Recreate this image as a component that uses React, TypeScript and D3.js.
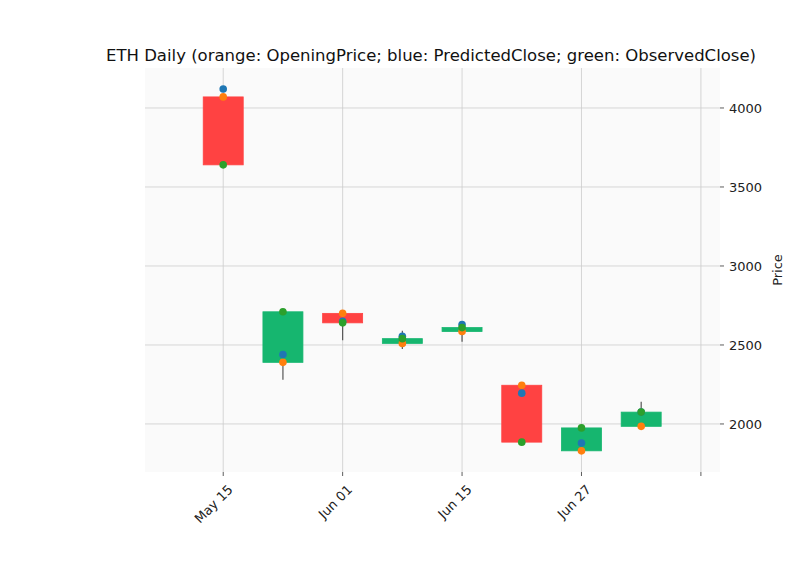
import * as d3 from 'd3';

const dates = ['May 15', 'May 23', 'Jun 01', 'Jun 08', 'Jun 15', 'Jun 21', 'Jun 27', 'Jul 04'];
const opens = [4070, 2390, 2700, 2510, 2585, 2245, 1830, 1985];
const closes = [3640, 2710, 2640, 2540, 2610, 1885, 1975, 2075];
const highs = [4070, 2710, 2720, 2590, 2610, 2245, 1975, 2140];
const lows = [3640, 2280, 2530, 2475, 2520, 1885, 1830, 1985];
const predicted = [4120, 2440, 2650, 2555, 2630, 2195, 1880, 2075];
const tickIdx = [0, 2, 4, 6, 8];
const yTicks = [2000, 2500, 3000, 3500, 4000];

export default function App() {
  const W = 800, H = 575;
  const left = 145, right = 720, top = 68, bottom = 472;
  const x = d3.scaleLinear().domain([-1.31, 8.32]).range([left, right]);
  const y = d3.scaleLinear().domain([1696, 4253]).range([bottom, top]);
  const bw = 40;
  const font = 'DejaVu Sans, sans-serif';
  return (
    <svg width={W} height={H} style={{ position: 'absolute', left: 0, top: 0 }} fontFamily={font}>
      <rect width={W} height={H} fill="#fff" />
      <rect x={left} y={top} width={right - left} height={bottom - top} fill="#fafafa" />
      {yTicks.map((t) => (
        <g key={t}>
          <line x1={left} x2={right} y1={y(t)} y2={y(t)} stroke="#cccccc" strokeWidth={0.8} />
          <line x1={right} x2={right + 4} y1={y(t)} y2={y(t)} stroke="#333" strokeWidth={0.8} />
          <text x={right + 9} y={y(t)} dy="0.35em" fontSize={13} fill="#222">{t}</text>
        </g>
      ))}
      {tickIdx.map((i) => (
        <g key={i}>
          <line x1={x(i)} x2={x(i)} y1={top} y2={bottom} stroke="#cccccc" strokeWidth={0.8} />
          <line x1={x(i)} x2={x(i)} y1={bottom} y2={bottom + 4} stroke="#333" strokeWidth={0.8} />
          {dates[i] && (
            <text transform={`translate(${x(i) + 4},${bottom + 12}) rotate(-45)`} textAnchor="end" dy="0.7em" fontSize={13} fill="#222">{dates[i]}</text>
          )}
        </g>
      ))}
      <text transform={`translate(782,${(top + bottom) / 2}) rotate(-90)`} textAnchor="middle" fontSize={13} fill="#222">Price</text>
      <text x={431} y={61} textAnchor="middle" fontSize={16.5} fill="#111">ETH Daily (orange: OpeningPrice; blue: PredictedClose; green: ObservedClose)</text>
      {opens.map((o, i) => {
        const c = closes[i];
        const up = c >= o;
        const col = up ? '#16b66f' : '#ff4242';
        return (
          <g key={i}>
            <line x1={x(i)} x2={x(i)} y1={y(highs[i])} y2={y(lows[i])} stroke="#555" strokeWidth={1.2} />
            <rect x={x(i) - bw / 2} y={y(Math.max(o, c))} width={bw} height={Math.max(1, Math.abs(y(o) - y(c)))} fill={col} stroke={col} strokeWidth={0.8} />
          </g>
        );
      })}
      {opens.map((o, i) => (
        <g key={'m' + i}>
          <circle cx={x(i)} cy={y(o)} r={3.8} fill="#ff7f0e" />
          <circle cx={x(i)} cy={y(predicted[i])} r={3.8} fill="#1f77b4" />
          <circle cx={x(i)} cy={y(closes[i])} r={3.8} fill="#2ca02c" />
        </g>
      ))}
    </svg>
  );
}
